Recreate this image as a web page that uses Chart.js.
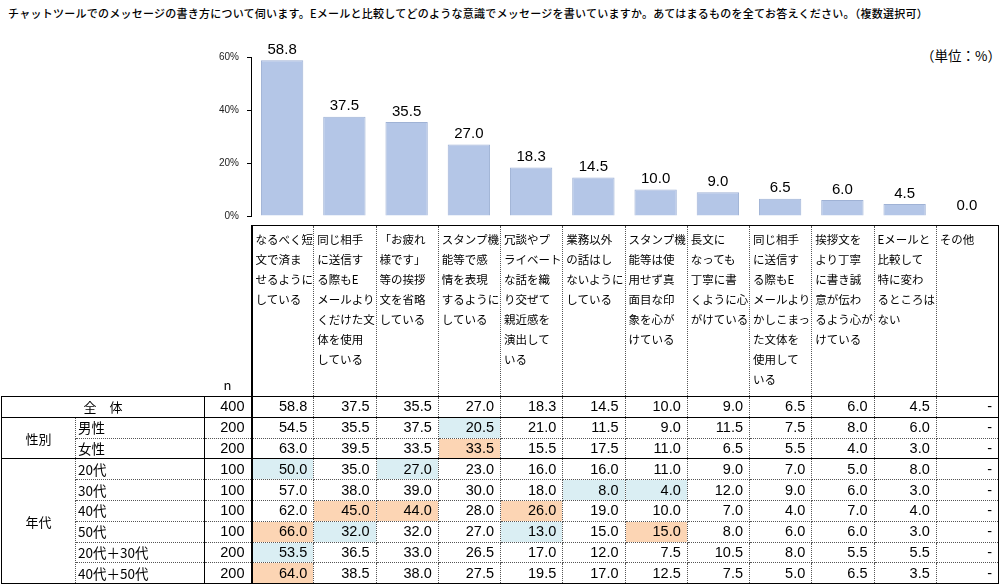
<!DOCTYPE html>
<html lang="ja">
<head>
<meta charset="utf-8">
<script src="https://cdn.jsdelivr.net/npm/chart.js@4.4.0/dist/chart.umd.min.js"></script>
<style>
  html, body { margin: 0; padding: 0; background: #fff; }
  body { width: 1000px; height: 585px; position: relative; overflow: hidden; font-family: "Noto Sans CJK JP", sans-serif; color: #000; }
  #title { position: absolute; left: 8px; top: 5px; font-size: 11px; font-weight: 500; letter-spacing: 0.25px; white-space: nowrap; }
  #unit { position: absolute; left: 921px; top: 45px; font-size: 13.5px; white-space: nowrap; }
  #chart { position: absolute; left: 0; top: 0; }
  table { position: absolute; left: 1px; top: 225px; border-collapse: collapse; table-layout: fixed; width: 997px; }
  tr { height: 20.8px; }
  td { padding: 0 6px 0 0; height: 19.6px; font-size: 14.5px; font-family: "Liberation Sans", Arial, sans-serif; text-align: right; border: 1px dotted #555; white-space: nowrap; line-height: 15px; overflow: hidden; }
  tr.head { height: 171px; }
  td.hd { height: 166px; vertical-align: top; text-align: left; padding: 3px 0 0 3px; font-family: "Noto Sans CJK JP", sans-serif; font-size: 11.5px; line-height: 20px; border-top: 1px solid #000; border-bottom: 1px solid #000; }
  td.blank { border: none; border-bottom: 1px solid #000; }
  td.nhd { border: none; border-bottom: 1px solid #000; text-align: center; vertical-align: bottom; font-family: "Noto Sans CJK JP", sans-serif; font-size: 13px; padding: 0 0 4px 0; }
  td.grp { text-align: center; font-family: "Noto Sans CJK JP", sans-serif; font-size: 13px; padding: 0; border-left: 1px solid #000; border-top: 1px solid #000; border-bottom: 1px solid #000; }
  td.lbl { text-align: left; padding: 0 0 0 2px; font-family: "Noto Sans CJK JP", sans-serif; font-size: 13.5px; }
  td.all { text-align: center; font-family: "Noto Sans CJK JP", sans-serif; font-size: 13px; padding: 0; border-left: 1px solid #000; }
  td.n { border-left: 1px solid #000; }
  td.first { border-left: 2px solid #000; }
  td.last { border-right: 1px solid #000; }
  tr.top td { border-top: 1px solid #000; }
  tr.bottom td { border-bottom: 1px solid #000; }
  td.hi { background: #fcd5b4; }
  td.lo { background: #daeef3; }
</style>
</head>
<body>
<div id="title">チャットツールでのメッセージの書き方について伺います。Eメールと比較してどのような意識でメッセージを書いていますか。あてはまるものを全てお答えください。（複数選択可）</div>
<div id="unit">（単位：%）</div>
<canvas id="chart" width="1000" height="230"></canvas>
<table id="tbl"></table>
<script>
// category labels, line by line as they wrap in the header
const categories = [
  ['なるべく短', '文で済ま', 'せるように', 'している'],
  ['同じ相手', 'に送信す', 'る際もE', 'メールより', 'くだけた文', '体を使用', 'している'],
  ['「お疲れ', '様です」', '等の挨拶', '文を省略', 'している'],
  ['スタンプ機', '能等で感', '情を表現', 'するように', 'している'],
  ['冗談やプ', 'ライベート', 'な話を織', 'り交ぜて', '親近感を', '演出して', 'いる'],
  ['業務以外', 'の話はし', 'ないように', 'している'],
  ['スタンプ機', '能等は使', '用せず真', '面目な印', '象を心が', 'けている'],
  ['長文に', 'なっても', '丁寧に書', 'くように心', 'がけている'],
  ['同じ相手', 'に送信す', 'る際もE', 'メールより', 'かしこまっ', 'た文体を', '使用して', 'いる'],
  ['挨拶文を', 'より丁寧', 'に書き誠', '意が伝わ', 'るよう心が', 'けている'],
  ['Eメールと', '比較して', '特に変わ', 'るところは', 'ない'],
  ['その他']
];

// overall (全体, n=400) — also drives the bars
const overall = [58.8, 37.5, 35.5, 27.0, 18.3, 14.5, 10.0, 9.0, 6.5, 6.0, 4.5, 0.0];
const overallN = 400;

// y axis ticks
const yTicks = [0, 20, 40, 60];

// segments (null = "-")
const male = [54.5, 35.5, 37.5, 20.5, 21.0, 11.5, 9.0, 11.5, 7.5, 8.0, 6.0, null];
const female = [63.0, 39.5, 33.5, 33.5, 15.5, 17.5, 11.0, 6.5, 5.5, 4.0, 3.0, null];
const age20 = [50.0, 35.0, 27.0, 23.0, 16.0, 16.0, 11.0, 9.0, 7.0, 5.0, 8.0, null];
const age30 = [57.0, 38.0, 39.0, 30.0, 18.0, 8.0, 4.0, 12.0, 9.0, 6.0, 3.0, null];
const age40 = [62.0, 45.0, 44.0, 28.0, 26.0, 19.0, 10.0, 7.0, 4.0, 7.0, 4.0, null];
const age50 = [66.0, 32.0, 32.0, 27.0, 13.0, 15.0, 15.0, 8.0, 6.0, 6.0, 3.0, null];
const age2030 = [53.5, 36.5, 33.0, 26.5, 17.0, 12.0, 7.5, 10.5, 8.0, 5.5, 5.5, null];
const age4050 = [64.0, 38.5, 38.0, 27.5, 19.5, 17.0, 12.5, 7.5, 5.0, 6.5, 3.5, null];

const groups = [
  { name: '性別', rows: [['男性', 200, male], ['女性', 200, female]] },
  { name: '年代', rows: [['20代', 100, age20], ['30代', 100, age30], ['40代', 100, age40], ['50代', 100, age50], ['20代＋30代', 200, age2030], ['40代＋50代', 200, age4050]] }
];

// build the table
function fmt(v) { return v === null ? '-' : v.toFixed(1); }

function dataCells(vals, mark) {
  return vals.map((v, i) => {
    let cls = [];
    if (i === 0) cls.push('first');
    if (i === vals.length - 1) cls.push('last');
    // shade cells 5pt or more above / below the overall figure
    if (mark && v !== null && overall[i] !== null) {
      const d = v - overall[i];
      if (d >= 5) cls.push('hi');
      else if (d <= -5) cls.push('lo');
    }
    return `<td class="${cls.join(' ')}">${fmt(v)}</td>`;
  }).join('');
}

const tbl = document.getElementById('tbl');
let html = '<colgroup><col style="width:74px"><col style="width:129px"><col style="width:47px">';
categories.forEach(() => { html += '<col style="width:62.25px">'; });
html += '</colgroup>';

// header with category labels
html += '<tr class="head"><td class="blank" colspan="2"></td><td class="nhd">n</td>';
categories.forEach((lines, i) => {
  let cls = 'hd';
  if (i === 0) cls += ' first';
  if (i === categories.length - 1) cls += ' last';
  html += `<td class="${cls}">${lines.join('<br>')}</td>`;
});
html += '</tr>';

// 全体 row
html += `<tr class="top bottom"><td class="all" colspan="2">全　体</td><td class="n">${overallN}</td>`;
html += dataCells(overall.map((v, i) => i === overall.length - 1 ? null : v), false) + '</tr>';

groups.forEach(g => {
  g.rows.forEach((r, j) => {
    let cls = [];
    if (j === 0) cls.push('top');
    if (j === g.rows.length - 1) cls.push('bottom');
    html += `<tr class="${cls.join(' ')}">`;
    if (j === 0) html += `<td class="grp" rowspan="${g.rows.length}">${g.name}</td>`;
    html += `<td class="lbl">${r[0]}</td><td class="n">${r[1]}</td>`;
    html += dataCells(r[2], true) + '</tr>';
  });
});
tbl.innerHTML = html;

// value labels above the bars
const valueLabels = {
  id: 'valueLabels',
  afterDatasetsDraw(chart) {
    const ctx = chart.ctx;
    const meta = chart.getDatasetMeta(0);
    ctx.save();
    ctx.font = '15px "Liberation Sans", Arial, sans-serif';
    ctx.fillStyle = '#000';
    ctx.textAlign = 'center';
    ctx.textBaseline = 'bottom';
    meta.data.forEach((bar, i) => {
      ctx.fillText(overall[i].toFixed(1), bar.x, bar.y - 3);
    });
    ctx.restore();
  }
};

new Chart(document.getElementById('chart'), {
  type: 'bar',
  data: {
    labels: categories.map(l => l.join('')),
    datasets: [{
      data: overall,
      backgroundColor: '#b4c6e7',
      borderColor: '#9fb2d5',
      borderWidth: 1,
      barPercentage: 0.68,
      categoryPercentage: 1
    }]
  },
  options: {
    responsive: false,
    animation: false,
    layout: { padding: { left: 200, right: 2, top: 57, bottom: 6 } },
    plugins: { legend: { display: false }, tooltip: { enabled: false } },
    scales: {
      x: { display: false },
      y: {
        min: yTicks[0],
        max: yTicks[yTicks.length - 1],
        afterBuildTicks: s => { s.ticks = yTicks.map(v => ({ value: v })); },
        afterFit: s => { s.width = 51; },
        ticks: {
          callback: v => v + '%',
          font: { size: 10, family: '"Liberation Sans", Arial, sans-serif' },
          color: '#222',
          padding: 8
        },
        grid: { display: true, drawOnChartArea: false, drawTicks: true, tickLength: 4, color: '#000' },
        border: { display: true, color: '#000', width: 1 }
      }
    }
  },
  plugins: [valueLabels]
});
</script>
</body>
</html>
